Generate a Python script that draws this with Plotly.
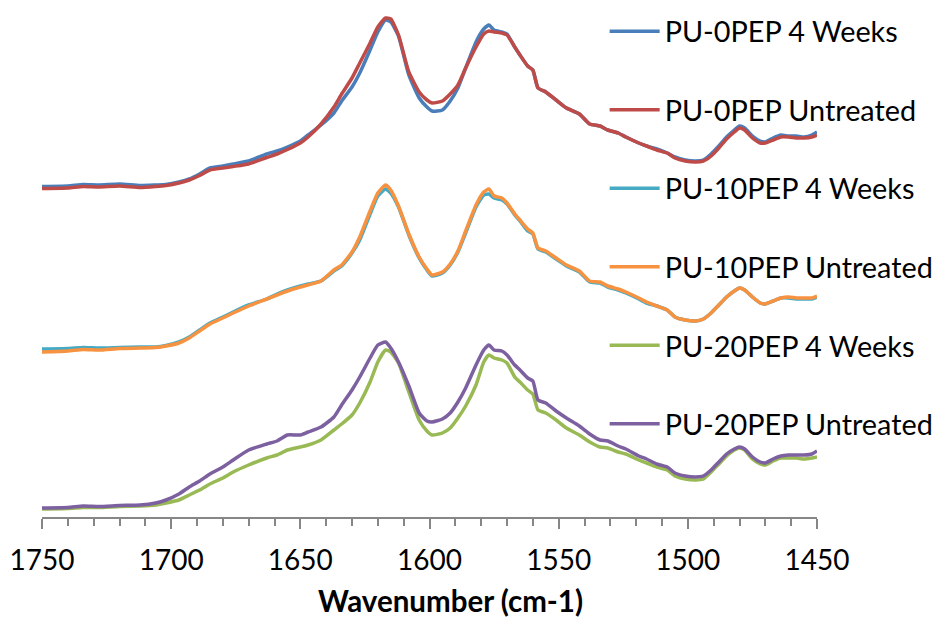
import plotly.graph_objects as go

wavenumber = [1750, 1740, 1734, 1728, 1720, 1712, 1706, 1702, 1697, 1693,
              1689, 1685, 1680, 1676, 1670, 1663, 1659, 1655, 1650, 1647,
              1642, 1637, 1634, 1630, 1627, 1623, 1620, 1617, 1615, 1612,
              1608, 1604, 1601, 1599, 1595, 1592, 1589, 1586, 1582, 1579,
              1577, 1575, 1572, 1570, 1567, 1565, 1562, 1560, 1558, 1555,
              1551, 1547, 1542, 1538, 1534, 1531, 1527, 1524, 1519, 1516,
              1512, 1508, 1505, 1501, 1497, 1494, 1491, 1488, 1485, 1482,
              1480, 1478, 1475, 1472, 1470, 1467, 1464, 1461, 1458, 1455,
              1452, 1450]

pu0_4w = [4.135, 4.14, 4.155, 4.15, 4.16, 4.145, 4.15, 4.155, 4.18, 4.21,
          4.26, 4.32, 4.34, 4.36, 4.39, 4.46, 4.49, 4.53, 4.59, 4.65,
          4.75, 4.87, 4.99, 5.13, 5.27, 5.50, 5.68, 5.80, 5.78, 5.64,
          5.25, 5.02, 4.93, 4.89, 4.90, 4.99, 5.12, 5.32, 5.58, 5.71,
          5.75, 5.70, 5.68, 5.66, 5.53, 5.45, 5.34, 5.30, 5.12, 5.08,
          5.00, 4.92, 4.86, 4.76, 4.74, 4.70, 4.67, 4.63, 4.57, 4.54,
          4.51, 4.47, 4.43, 4.40, 4.39, 4.40, 4.46, 4.54, 4.63, 4.70,
          4.74, 4.72, 4.64, 4.59, 4.58, 4.62, 4.65, 4.64, 4.64, 4.63,
          4.65, 4.68]

pu0_un = [4.115, 4.12, 4.135, 4.13, 4.14, 4.125, 4.135, 4.145, 4.17, 4.20,
          4.245, 4.30, 4.32, 4.335, 4.36, 4.425, 4.46, 4.505, 4.57, 4.63,
          4.76, 4.93, 5.06, 5.22, 5.37, 5.57, 5.73, 5.82, 5.81, 5.65,
          5.28, 5.08, 5.00, 4.97, 4.99, 5.06, 5.15, 5.32, 5.53, 5.66,
          5.69, 5.68, 5.67, 5.65, 5.53, 5.45, 5.34, 5.30, 5.12, 5.08,
          5.00, 4.92, 4.86, 4.76, 4.74, 4.70, 4.67, 4.63, 4.57, 4.54,
          4.50, 4.47, 4.42, 4.39, 4.38, 4.39, 4.44, 4.52, 4.61, 4.68,
          4.72, 4.70, 4.62, 4.57, 4.57, 4.60, 4.63, 4.63, 4.62, 4.62,
          4.63, 4.65]

pu10_4w = [2.51, 2.515, 2.525, 2.52, 2.525, 2.53, 2.53, 2.545, 2.58, 2.63,
           2.70, 2.77, 2.83, 2.88, 2.95, 3.01, 3.06, 3.10, 3.14, 3.16,
           3.19, 3.29, 3.34, 3.47, 3.60, 3.86, 4.04, 4.11, 4.07, 3.93,
           3.65, 3.42, 3.30, 3.24, 3.27, 3.35, 3.48, 3.67, 3.93, 4.05,
           4.06, 4.02, 4.00, 3.96, 3.85, 3.79, 3.69, 3.66, 3.51, 3.48,
           3.41, 3.34, 3.28, 3.18, 3.17, 3.13, 3.10, 3.07, 3.01, 2.97,
           2.94, 2.90, 2.83, 2.80, 2.79, 2.81, 2.87, 2.95, 3.03, 3.09,
           3.12, 3.10, 3.03, 2.97, 2.96, 2.99, 3.02, 3.02, 3.01, 3.01,
           3.01, 3.03]

pu10_un = [2.48, 2.49, 2.505, 2.50, 2.515, 2.52, 2.525, 2.54, 2.57, 2.62,
           2.69, 2.76, 2.82, 2.87, 2.94, 3.01, 3.05, 3.09, 3.13, 3.15,
           3.19, 3.30, 3.35, 3.48, 3.63, 3.89, 4.07, 4.15, 4.10, 3.94,
           3.66, 3.43, 3.31, 3.25, 3.28, 3.36, 3.49, 3.69, 3.95, 4.08,
           4.11, 4.04, 4.02, 3.97, 3.86, 3.80, 3.71, 3.67, 3.52, 3.49,
           3.42, 3.35, 3.29, 3.19, 3.18, 3.14, 3.11, 3.08, 3.02, 2.98,
           2.94, 2.90, 2.83, 2.80, 2.79, 2.81, 2.87, 2.95, 3.03, 3.09,
           3.12, 3.10, 3.03, 2.97, 2.96, 2.99, 3.02, 3.03, 3.02, 3.02,
           3.02, 3.04]

pu20_4w = [0.91, 0.915, 0.925, 0.925, 0.935, 0.94, 0.95, 0.97, 1.00, 1.05,
           1.10, 1.16, 1.22, 1.28, 1.35, 1.42, 1.45, 1.50, 1.53, 1.55,
           1.60, 1.70, 1.76, 1.85, 1.97, 2.18, 2.38, 2.50, 2.48, 2.37,
           2.08, 1.80, 1.69, 1.65, 1.67, 1.72, 1.82, 1.94, 2.15, 2.38,
           2.45, 2.42, 2.40, 2.37, 2.23, 2.18, 2.10, 2.06, 1.90, 1.87,
           1.80, 1.72, 1.65, 1.58, 1.53, 1.52, 1.48, 1.46, 1.40, 1.37,
           1.33, 1.30, 1.24, 1.21, 1.20, 1.21, 1.28, 1.36, 1.44, 1.50,
           1.52, 1.50, 1.41, 1.36, 1.35, 1.39, 1.42, 1.42, 1.42, 1.41,
           1.42, 1.43]

pu20_un = [0.92, 0.925, 0.94, 0.935, 0.945, 0.95, 0.97, 1.00, 1.06, 1.13,
           1.19, 1.26, 1.33, 1.40, 1.50, 1.56, 1.59, 1.65, 1.65, 1.68,
           1.73, 1.83, 1.95, 2.10, 2.23, 2.42, 2.55, 2.58, 2.52, 2.38,
           2.14, 1.87, 1.79, 1.78, 1.81, 1.87, 1.98, 2.12, 2.35, 2.50,
           2.55, 2.50, 2.49, 2.45, 2.35, 2.30, 2.22, 2.19, 2.00, 1.97,
           1.89, 1.82, 1.74, 1.66, 1.60, 1.59, 1.54, 1.51, 1.44, 1.41,
           1.36, 1.33, 1.27, 1.24, 1.23, 1.24, 1.30, 1.38, 1.46, 1.51,
           1.53, 1.51, 1.43, 1.38, 1.37, 1.41, 1.44, 1.45, 1.45, 1.45,
           1.46, 1.49]

series_names = ["PU-0PEP 4 Weeks", "PU-0PEP Untreated", "PU-10PEP 4 Weeks",
                "PU-10PEP Untreated", "PU-20PEP 4 Weeks", "PU-20PEP Untreated"]
series_values = [pu0_4w, pu0_un, pu10_4w, pu10_un, pu20_4w, pu20_un]
colors = ["#4A7EBB", "#BE4B48", "#46AAC5", "#F69240", "#98B954", "#7D60A0"]

x_ticks = [1750, 1700, 1650, 1600, 1550, 1500, 1450]
x_title = "Wavenumber (cm-1)"

fig = go.Figure()
for i, (name, vals) in enumerate(zip(series_names, series_values)):
    fig.add_trace(go.Scatter(
        x=wavenumber, y=vals, mode="lines", name=name,
        legendgroup=f"g{i}",
        line=dict(color=colors[i], width=3.5, shape="spline", smoothing=0.5),
    ))

axis_gray = "#868686"
fig.update_layout(
    width=935, height=620,
    margin=dict(l=42, r=118, t=10, b=103, autoexpand=False),
    paper_bgcolor="white", plot_bgcolor="white",
    font=dict(family="Lato, Liberation Sans, Arial, sans-serif", size=28, color="black"),
    showlegend=True,
    legend=dict(
        x=0.726, y=1.008, xanchor="left", yanchor="top",
        bgcolor="rgba(0,0,0,0)", borderwidth=0,
        font=dict(size=28.8, color="black"),
        tracegroupgap=38.1, itemwidth=50,
        maxheight=600,
    ),
    xaxis=dict(
        range=[1750, 1450],
        tickmode="array", tickvals=x_ticks, ticktext=[str(t) for t in x_ticks],
        ticks="outside", ticklen=10, tickwidth=1.5, tickcolor=axis_gray,
        showline=True, linecolor=axis_gray, linewidth=1.5,
        showgrid=False, zeroline=False,
        minor=dict(dtick=10, ticks="outside", ticklen=7, tickwidth=1.5,
                   tickcolor=axis_gray, showgrid=False),
        ticklabelstandoff=8,
        tickfont=dict(size=28, color="black"),
        automargin=False,
    ),
    yaxis=dict(range=[0.83, 5.90], visible=False, showgrid=False, zeroline=False),
    annotations=[dict(
        text=f"<b>{x_title}</b>", xref="paper", yref="paper",
        x=(450 - 42) / 775, y=-(600 - 517) / 507,
        xanchor="center", yanchor="middle", showarrow=False,
        font=dict(size=29.5, color="black"), borderpad=0,
    )],
)

fig.write_html("out.html")
